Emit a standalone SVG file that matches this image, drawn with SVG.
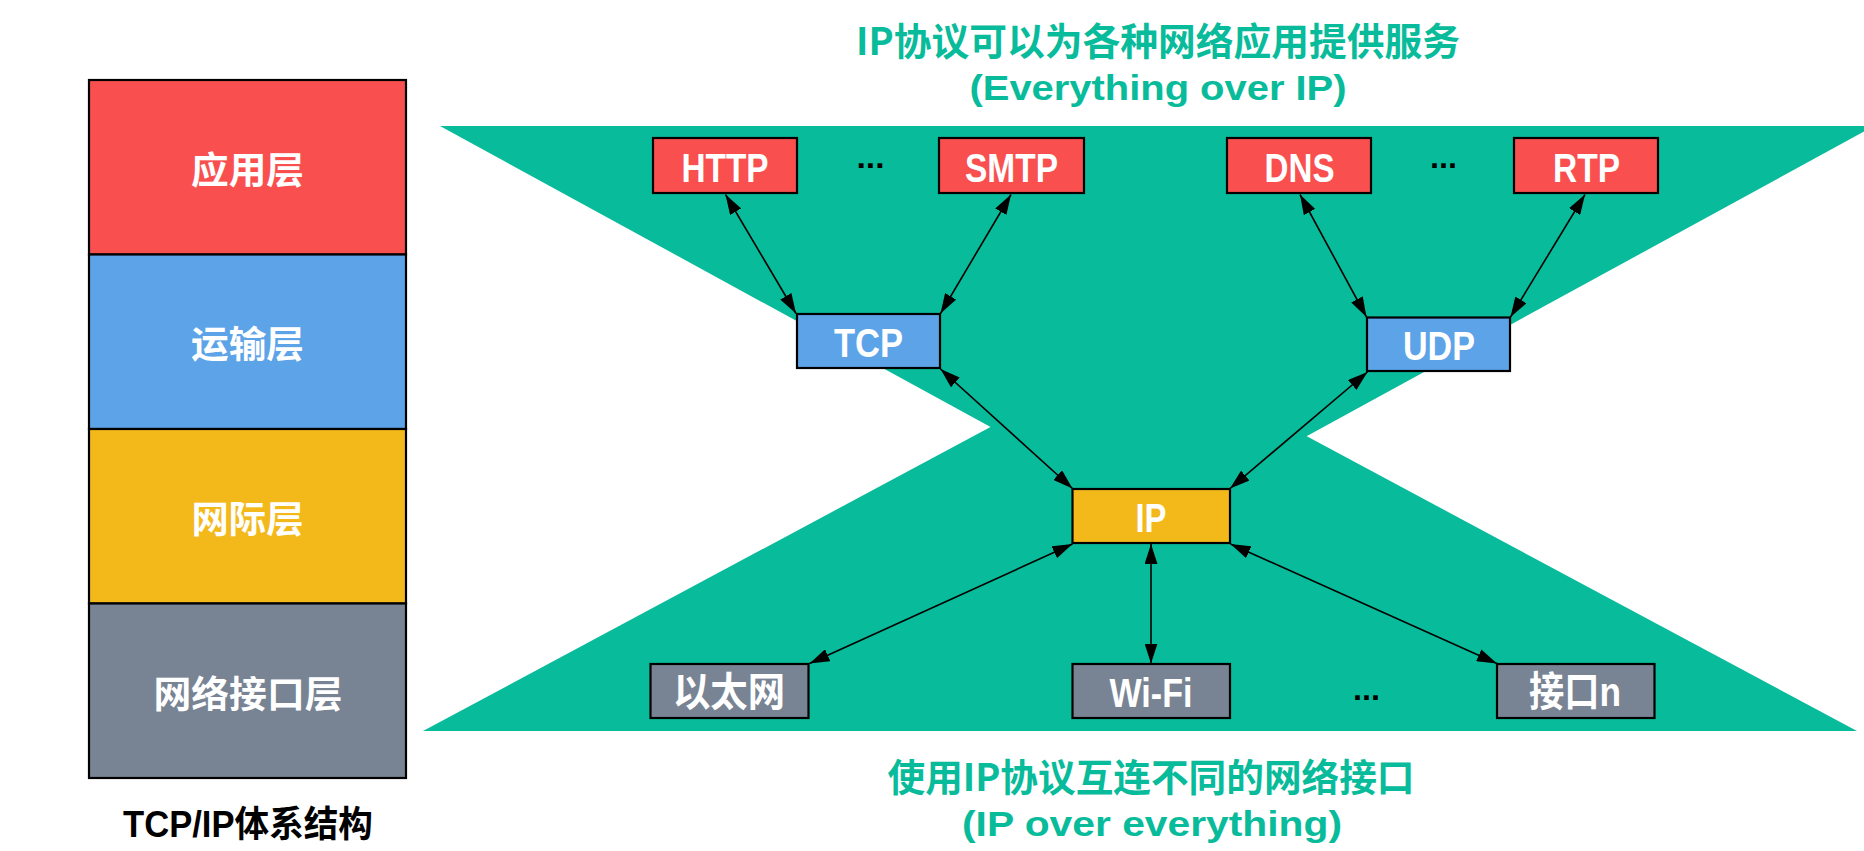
<svg xmlns="http://www.w3.org/2000/svg" width="1864" height="851" viewBox="0 0 1864 851">
  <defs>
    <marker id="ah" viewBox="0 0 20 13" refX="20" refY="6.5" markerWidth="20" markerHeight="13" markerUnits="userSpaceOnUse" orient="auto-start-reverse">
      <path d="M0,0 L20,6.5 L0,13 z" fill="#000"/>
    </marker>
    <style>
      .box { stroke:#000; stroke-width:2.2; }
      .red { fill:#F94F4F; }
      .blue { fill:#5CA3E8; }
      .yellow { fill:#F3B91B; }
      .gray { fill:#788494; }
      .green { fill:#08BB9A; }
      .lbl { font-family:"Liberation Sans","Noto Sans CJK SC",sans-serif; font-weight:bold; font-size:41px; fill:#fff; text-anchor:middle; }
      .cjk { font-family:"Noto Sans CJK SC",sans-serif; font-weight:bold; fill:#fff; text-anchor:middle; }
      .title { font-family:"Liberation Sans",sans-serif; font-weight:bold; fill:#08BB9A; text-anchor:middle; }
      .title-cjk { font-family:"Noto Sans CJK SC",sans-serif; font-weight:bold; fill:#08BB9A; text-anchor:middle; }
      .dots { font-family:"Liberation Sans",sans-serif; font-weight:bold; font-size:32px; fill:#000; text-anchor:middle; }
      .conn line { stroke:#000; stroke-width:1.6; marker-start:url(#ah); marker-end:url(#ah); }
    </style>
  </defs>
  <rect width="1864" height="851" fill="#fff"/>

  <!-- left stack -->
  <g id="stack">
    <g id="layer-app">
      <rect class="box red" x="89" y="80" width="317" height="174.5"/>
      <text class="cjk" x="247.5" y="183.5" font-size="37" textLength="113" lengthAdjust="spacingAndGlyphs">应用层</text>
    </g>
    <g id="layer-transport">
      <rect class="box blue" x="89" y="254.5" width="317" height="174.5"/>
      <text class="cjk" x="247.5" y="358" font-size="37" textLength="113" lengthAdjust="spacingAndGlyphs">运输层</text>
    </g>
    <g id="layer-internet">
      <rect class="box yellow" x="89" y="429" width="317" height="174.5"/>
      <text class="cjk" x="247.5" y="533" font-size="37" textLength="112" lengthAdjust="spacingAndGlyphs">网际层</text>
    </g>
    <g id="layer-link">
      <rect class="box gray" x="89" y="603.5" width="317" height="174.5"/>
      <text class="cjk" x="248" y="707.5" font-size="37" textLength="189" lengthAdjust="spacingAndGlyphs">网络接口层</text>
    </g>
    <text id="stack-caption" x="248" y="837" font-family="Liberation Sans,Noto Sans CJK SC,sans-serif" font-weight="bold" font-size="36" fill="#000" text-anchor="middle" textLength="250" lengthAdjust="spacingAndGlyphs">TCP/IP体系结构</text>
  </g>

  <!-- hourglass background -->
  <g id="background">
    <polygon class="green" points="440,126 1874,126 1157,518"/>
    <polygon class="green" points="423,731 1857,731 1140,347"/>
  </g>

  <!-- titles -->
  <g id="top-title">
    <text class="title-cjk" x="1158" y="55" font-size="38" textLength="604" lengthAdjust="spacingAndGlyphs">IP协议可以为各种网络应用提供服务</text>
    <text class="title" x="1158" y="100" font-size="35" textLength="377" lengthAdjust="spacingAndGlyphs">(Everything over IP)</text>
  </g>
  <g id="bottom-title">
    <text class="title-cjk" x="1151" y="791" font-size="38" textLength="527" lengthAdjust="spacingAndGlyphs">使用IP协议互连不同的网络接口</text>
    <text class="title" x="1152" y="835.5" font-size="35" textLength="380" lengthAdjust="spacingAndGlyphs">(IP over everything)</text>
  </g>

  <!-- connectors -->
  <g id="connectors" class="conn">
    <line x1="725.5" y1="194.5" x2="796" y2="313.5"/>
    <line x1="1011" y1="194.5" x2="940.5" y2="313.5"/>
    <line x1="1300" y1="194.5" x2="1366.5" y2="317"/>
    <line x1="1585" y1="194.5" x2="1510.5" y2="317"/>
    <line x1="940.5" y1="369" x2="1072.5" y2="488.5"/>
    <line x1="1367.5" y1="372" x2="1230" y2="488.5"/>
    <line x1="1072.5" y1="544" x2="809.5" y2="663.5"/>
    <line x1="1151" y1="544" x2="1151" y2="663.5"/>
    <line x1="1230.5" y1="544" x2="1497" y2="663.5"/>
  </g>

  <!-- application layer nodes -->
  <g id="node-http">
    <rect class="box red" x="653" y="138" width="144" height="55"/>
    <text class="lbl" x="725" y="182" textLength="87" lengthAdjust="spacingAndGlyphs">HTTP</text>
  </g>
  <text class="dots" x="870.5" y="168" textLength="28" lengthAdjust="spacingAndGlyphs">...</text>
  <g id="node-smtp">
    <rect class="box red" x="939" y="138" width="145" height="55"/>
    <text class="lbl" x="1011.5" y="182" textLength="93" lengthAdjust="spacingAndGlyphs">SMTP</text>
  </g>
  <g id="node-dns">
    <rect class="box red" x="1227" y="138" width="144" height="55"/>
    <text class="lbl" x="1299.5" y="182" textLength="70" lengthAdjust="spacingAndGlyphs">DNS</text>
  </g>
  <text class="dots" x="1443.5" y="168" textLength="27" lengthAdjust="spacingAndGlyphs">...</text>
  <g id="node-rtp">
    <rect class="box red" x="1514" y="138" width="144" height="55"/>
    <text class="lbl" x="1586.5" y="182" textLength="67" lengthAdjust="spacingAndGlyphs">RTP</text>
  </g>

  <!-- transport layer nodes -->
  <g id="node-tcp">
    <rect class="box blue" x="797" y="314" width="143" height="54"/>
    <text class="lbl" x="868.5" y="357" textLength="69" lengthAdjust="spacingAndGlyphs">TCP</text>
  </g>
  <g id="node-udp">
    <rect class="box blue" x="1367" y="317.5" width="143" height="53.5"/>
    <text class="lbl" x="1439" y="360" textLength="72" lengthAdjust="spacingAndGlyphs">UDP</text>
  </g>

  <!-- internet layer -->
  <g id="node-ip">
    <rect class="box yellow" x="1072.5" y="489" width="157.5" height="54"/>
    <text class="lbl" x="1151" y="532" textLength="31" lengthAdjust="spacingAndGlyphs">IP</text>
  </g>

  <!-- link layer nodes -->
  <g id="node-ethernet">
    <rect class="box gray" x="650.5" y="664" width="158" height="54"/>
    <text class="cjk" x="729" y="706" font-size="40" textLength="112" lengthAdjust="spacingAndGlyphs">以太网</text>
  </g>
  <g id="node-wifi">
    <rect class="box gray" x="1072.5" y="664" width="157.5" height="54"/>
    <text class="lbl" x="1151" y="707" textLength="83" lengthAdjust="spacingAndGlyphs">Wi-Fi</text>
  </g>
  <text class="dots" x="1366.5" y="700" textLength="27" lengthAdjust="spacingAndGlyphs">...</text>
  <g id="node-ifn">
    <rect class="box gray" x="1497" y="664" width="157.5" height="54"/>
    <text class="lbl" x="1575" y="706" font-size="40" textLength="92" lengthAdjust="spacingAndGlyphs">接口n</text>
  </g>
</svg>
